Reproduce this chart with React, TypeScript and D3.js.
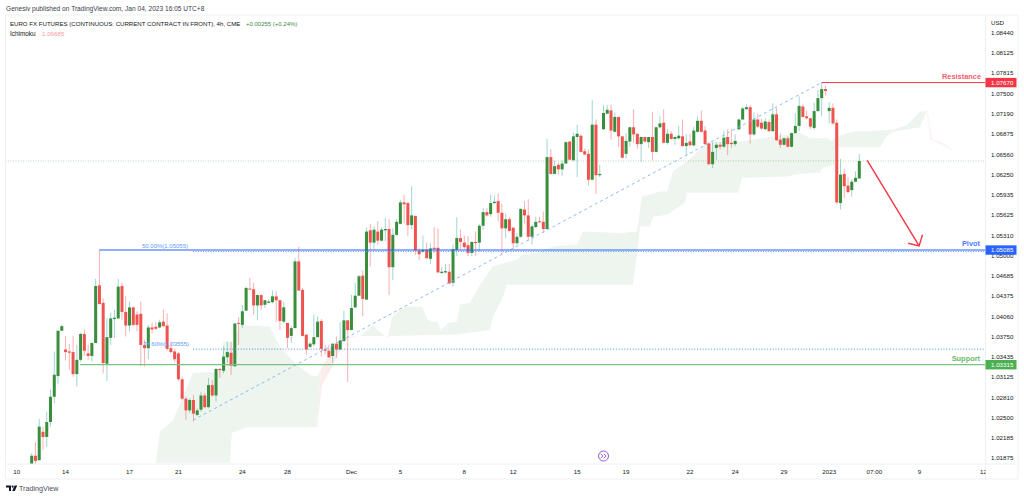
import React from "react";
import * as d3 from "d3";

// Prices in units of 0.0001
const opens = [
10178,10191,10184,10228,10220,10243,10282,10314,10384,10355,
10352,10351,10317,10339,10379,10349,10345,10365,10454,10427,
10333,10373,10402,10403,10453,10413,10392,10420,10409,10410,
10362,10357,10389,10390,10389,10398,10392,10357,10352,10349,
10309,10279,10261,10277,10254,10262,10284,10266,10300,10284,
10325,10322,10343,10350,10329,10396,10393,10415,10449,10448,
10423,10439,10424,10427,10428,10437,10431,10398,10396,10376,
10388,10491,10447,10378,10359,10363,10374,10399,10355,10353,
10345,10364,10355,10368,10400,10385,10420,10438,10469,10432,
10539,10520,10537,10523,10539,10541,10482,10532,10549,10582,
10581,10547,10561,10508,10506,10509,10495,10512,10512,10473,
10474,10475,10458,10509,10527,10520,10516,10504,10521,10520,
10546,10567,10564,10581,10584,10566,10542,10556,10543,10519,
10529,10571,10562,10529,10544,10553,10552,10541,10652,10626,
10640,10633,10642,10676,10647,10683,10685,10661,10657,10617,
10702,10624,10695,10719,10724,10691,10714,10684,10657,10676,
10698,10688,10672,10683,10675,10683,10660,10698,10705,10674,
10688,10680,10681,10684,10669,10676,10670,10691,10708,10693,
10673,10641,10666,10671,10668,10683,10674,10672,10695,10710,
10726,10729,10687,10710,10705,10695,10706,10692,10718,10679,
10671,10681,10668,10689,10700,10730,10715,10712,10697,10723,
10743,10757,10723,10728,10705,10581,10626,10608,10601,10614,10619];

const highs = [
10195,10212,10248,10236,10259,10293,10352,10384,10393,10376,
10364,10376,10362,10381,10386,10362,10366,10464,10509,10434,
10403,10412,10416,10464,10458,10438,10429,10421,10414,10429,
10370,10393,10396,10397,10401,10417,10411,10367,10356,10351,
10313,10282,10280,10285,10264,10289,10288,10311,10308,10326,
10326,10360,10367,10367,10396,10405,10424,10452,10466,10458,
10440,10440,10432,10432,10446,10445,10431,10428,10396,10391,
10496,10514,10450,10378,10366,10409,10406,10402,10362,10362,
10364,10375,10397,10415,10400,10439,10458,10470,10477,10543,
10549,10545,10553,10543,10558,10556,10542,10556,10586,10594,
10583,10607,10562,10512,10531,10520,10519,10544,10542,10482,
10487,10487,10517,10559,10540,10531,10530,10522,10537,10549,
10573,10573,10594,10592,10596,10580,10565,10559,10544,10535,
10573,10584,10587,10548,10560,10560,10568,10680,10664,10647,
10644,10647,10676,10676,10690,10702,10687,10665,10664,10740,
10710,10640,10732,10732,10733,10721,10714,10684,10689,10699,
10726,10688,10684,10683,10683,10722,10699,10715,10726,10695,
10692,10685,10700,10710,10687,10688,10699,10715,10724,10700,
10675,10675,10675,10675,10693,10695,10695,10687,10712,10729,
10733,10732,10721,10719,10711,10712,10710,10735,10728,10689,
10682,10684,10690,10720,10746,10733,10724,10712,10736,10756,
10768,10762,10737,10735,10710,10649,10634,10621,10618,10630,10657];

const lows = [
10178,10178,10184,10200,10205,10236,10272,10302,10383,10338,
10324,10313,10298,10336,10345,10339,10336,10365,10425,10318,
10306,10362,10373,10402,10401,10375,10383,10391,10383,10329,
10329,10340,10380,10385,10388,10390,10353,10349,10336,10306,
10277,10246,10257,10244,10252,10259,10264,10264,10282,10275,
10311,10318,10334,10316,10329,10362,10388,10414,10447,10409,
10400,10416,10419,10426,10426,10398,10385,10396,10357,10365,
10388,10446,10375,10347,10357,10360,10374,10344,10347,10342,
10334,10342,10354,10367,10305,10385,10419,10438,10406,10432,
10483,10509,10517,10522,10522,10439,10462,10530,10548,10550,
10530,10540,10501,10493,10504,10494,10487,10504,10473,10472,
10472,10456,10452,10499,10509,10510,10499,10499,10499,10506,
10540,10560,10560,10580,10553,10501,10527,10537,10510,10517,
10527,10550,10523,10517,10542,10550,10535,10541,10625,10625,
10625,10623,10642,10647,10647,10621,10659,10655,10608,10617,
10595,10621,10694,10719,10679,10690,10668,10651,10650,10668,
10674,10665,10645,10674,10666,10647,10659,10696,10673,10671,
10679,10671,10679,10668,10655,10670,10669,10690,10690,10671,
10640,10635,10648,10664,10666,10655,10666,10669,10693,10709,
10725,10673,10685,10697,10694,10693,10691,10691,10677,10666,
10670,10667,10667,10688,10692,10713,10711,10695,10694,10722,
10715,10747,10704,10702,10579,10571,10589,10596,10591,10613,10618];

const closes = [
10191,10183,10236,10220,10243,10282,10316,10384,10391,10351,
10350,10317,10339,10379,10353,10345,10365,10453,10425,10334,
10374,10403,10404,10452,10413,10392,10420,10393,10393,10362,
10357,10389,10386,10387,10397,10391,10356,10351,10340,10309,
10279,10261,10277,10256,10261,10284,10266,10300,10284,10325,
10323,10344,10351,10330,10395,10395,10414,10450,10448,10423,
10439,10423,10431,10429,10437,10431,10399,10420,10373,10388,
10491,10446,10376,10355,10364,10374,10398,10356,10353,10343,
10364,10355,10369,10400,10385,10419,10438,10468,10433,10537,
10520,10540,10523,10540,10541,10482,10532,10552,10582,10579,
10547,10562,10508,10502,10509,10496,10511,10510,10474,10475,
10476,10457,10510,10527,10521,10513,10504,10521,10520,10546,
10567,10562,10581,10583,10566,10542,10556,10538,10519,10529,
10572,10562,10529,10545,10552,10552,10541,10652,10626,10638,
10633,10642,10675,10648,10684,10688,10660,10656,10617,10702,
10624,10626,10720,10725,10693,10714,10684,10651,10677,10698,
10687,10672,10683,10676,10683,10660,10698,10704,10674,10688,
10680,10683,10685,10669,10674,10670,10693,10708,10691,10672,
10641,10660,10671,10668,10682,10672,10672,10677,10710,10727,
10729,10687,10710,10699,10696,10707,10692,10718,10678,10671,
10681,10668,10689,10700,10731,10714,10712,10699,10723,10743,
10757,10754,10728,10704,10582,10625,10607,10598,10614,10620,10646];

type P = [number, number];
// Ichimoku cloud outline: [bar, price x 1e4]
const cloudATop: P[] = [[33,10180],[34.1,10228],[37.6,10246],[41.3,10297],[42.9,10319],[48.2,10320],[50.6,10324],[50.9,10367],[53.5,10367],[55.4,10393],[63.3,10390],[66,10359],[70,10334],[74,10316],[75.8,10313],[76.9,10324]];
const cloudABottom: P[] = [[33,10180],[52.7,10180],[53.2,10226],[55.4,10231],[57.5,10235],[75.8,10235],[76.9,10324]];
const cloudRedTop: P[] = [[76.9,10324],[79.3,10351],[83.3,10373],[87.3,10376]];
const cloudRedBottom: P[] = [[75.8,10235],[77.2,10300],[80.1,10331],[83.3,10370],[87.3,10376]];
const cloudBTop: P[] = [[87.3,10376],[90.7,10392],[93.4,10378],[94.7,10373],[95.8,10405],[97.9,10416],[99.8,10421],[103.7,10421],[105.3,10401],[106.4,10398],[107.7,10398],[108.8,10385],[110.7,10396],[113,10398],[113.8,10424],[116.5,10427],[119.2,10455],[122.6,10483],[129,10494],[130.3,10501],[134.3,10504],[138.6,10514],[144.9,10517],[146.5,10537],[157.2,10535],[160.9,10537],[162.2,10591],[167,10599],[168.9,10599],[170.5,10630],[174.2,10645],[179.5,10674],[188.3,10676],[204.2,10690],[206.9,10681],[211.4,10681],[212.7,10676],[213.5,10682],[215.7,10687],[218.3,10691],[229,10694],[232.7,10702],[236.1,10722],[238,10724]];
const cloudBBottom: P[] = [[87.3,10376],[94.7,10376],[112.8,10378],[121.8,10385],[122.6,10405],[125.3,10436],[126.3,10455],[159.8,10455],[161.2,10514],[161.7,10545],[164.4,10545],[165.2,10560],[168.9,10563],[173.7,10582],[174.2,10597],[187.8,10597],[188.8,10620],[201,10622],[203.4,10626],[209.5,10628],[210.3,10636],[213.5,10640],[214,10667],[225.5,10667],[227.3,10684],[229,10691],[236.1,10698],[238,10724]];
const cloudTailTop: P[] = [[238,10724],[239.3,10679],[243,10671],[244.9,10662]];
const cloudTailBottom: P[] = [[238,10724],[239,10679],[243.5,10667],[244.9,10662]];

const priceTicks = ["1.08440","1.08125","1.07815","1.07500","1.07190","1.06875","1.06560","1.06250","1.05935","1.05625","1.05310","1.05000","1.04685","1.04375","1.04060","1.03750","1.03435","1.03125","1.02810","1.02500","1.02185","1.01875"];
const timeTickLabels = ["10","14","17","21","24","28","Dec","5","8","12","15","19","22","24","29","2023","07:00","9","12"];
const timeTickBars = [-4,9,26,39,56,68,85,98,115,128,145,158,175,187,200,212,224,236,253];

const resistance = 10767, pivot = 10508.5, support = 10331.5;
const fib786 = 10355.5;
const trendStart: P = [42.9, 10246], trendEnd: P = [210, 10767];
const arrowShaft: P[] = [[222.1,10647],[235.9,10515]];
const arrowHead: P[] = [[233,10519],[235.9,10515],[236.8,10532]];

const FONT = "'Liberation Sans', Arial, sans-serif";
const W = 1024, H = 499;
const axisX = 985.5, plotL = 5.5, plotT = 15, plotB = 464, frameB = 479, frameR = 1018;

const x = d3.scaleLinear().domain([0, opens.length - 1]).range([31.7, 859.3]);
const y = d3.scaleLinear().domain([10187.5, 10844]).range([458, 32.7]);
const line = d3.line<P>().x((d) => x(d[0])).y((d) => y(d[1]));
const shape = (top: P[], bottom: P[]) => line([...top, ...bottom.slice().reverse()]) + "Z";

const GREEN = "#388e3c", RED = "#ef5350";
const C_RED = "#f23645", C_BLUE = "#2962ff", C_GREEN = "#4caf50";

function Tag({ v, label, fill }: { v: number; label: string; fill: string }) {
  const cy = y(v);
  return (
    <g>
      <rect x={axisX} y={cy - 4.7} width={31} height={9.4} fill={fill} />
      <text x={991} y={cy + 2.2} fontSize={6.2} fill="#fff" fontFamily={FONT}>{label}</text>
    </g>
  );
}

export default function App() {
  const lastClose = closes[closes.length - 1];
  return (
    <svg width={W} height={H} viewBox={`0 0 ${W} ${H}`} style={{ position: "absolute", left: 0, top: 0, background: "#fff" }}>
      <defs>
        <clipPath id="plot"><rect x={plotL} y={plotT} width={axisX - plotL} height={plotB - plotT} /></clipPath>
        <clipPath id="time"><rect x={plotL} y={plotB} width={axisX - plotL} height={frameB - plotB} /></clipPath>
      </defs>
      <rect width={W} height={H} fill="#fff" />

      <text x={6} y={10.5} fontSize={6.6} fill="#3a3e4a" fontFamily={FONT}>Genesiv published on TradingView.com, Jan 04, 2023 16:05 UTC+8</text>

      <g clipPath="url(#plot)">
        <path d={shape(cloudATop, cloudABottom)} fill="#edf5ee" />
        <path d={shape(cloudBTop, cloudBBottom)} fill="#edf5ee" />
        <path d={shape(cloudRedTop, cloudRedBottom)} fill="#fdecec" />
        <path d={shape(cloudTailTop, cloudTailBottom)} fill="#fdf1f1" stroke="#fdf1f1" strokeWidth={0.6} />

        <line x1={plotL} x2={axisX} y1={y(lastClose)} y2={y(lastClose)} stroke="#388e3c" strokeOpacity={0.45} strokeWidth={0.8} strokeDasharray="1 1.5" />

        {opens.map((o, i) => {
          const up = closes[i] >= o;
          const top = Math.min(y(o), y(closes[i]));
          const h = Math.max(Math.abs(y(o) - y(closes[i])), 1);
          return (
            <g key={i}>
              <line x1={x(i)} x2={x(i)} y1={y(highs[i])} y2={y(lows[i])} stroke={up ? "#26a69a" : RED} strokeOpacity={0.45} strokeWidth={1} />
              <rect x={x(i) - 1.5} y={top} width={3} height={h} fill={up ? GREEN : RED} />
            </g>
          );
        })}

        <line x1={x(trendStart[0])} y1={y(trendStart[1])} x2={x(trendEnd[0])} y2={y(trendEnd[1])} stroke="#7fb3f0" strokeWidth={0.9} strokeDasharray="3 3" />

        <line x1={x(18)} x2={axisX} y1={y(pivot)} y2={y(pivot)} stroke={C_BLUE} strokeWidth={1.1} />
        <line x1={x(42.9)} x2={axisX} y1={y(pivot) + 1.5} y2={y(pivot) + 1.5} stroke="#5b9cf6" strokeWidth={1} strokeDasharray="1 1.5" />
        <line x1={x(42.9)} x2={axisX} y1={y(fib786)} y2={y(fib786)} stroke="#4a8fe8" strokeWidth={1} strokeDasharray="1 1.8" />
        <line x1={x(12.8)} x2={axisX} y1={y(support)} y2={y(support)} stroke="#7cc381" strokeWidth={1.3} />
        <line x1={x(210)} x2={axisX} y1={y(resistance)} y2={y(resistance)} stroke={C_RED} strokeWidth={1} />

        <path d={line(arrowShaft)!} fill="none" stroke={C_RED} strokeWidth={1.4} />
        <path d={line(arrowHead)!} fill="none" stroke={C_RED} strokeWidth={1.4} />

        <text x={142} y={248} fontSize={6} fill="#5b9cf6" fontFamily={FONT}>50.00%(1.05055)</text>
        <text x={143} y={346} fontSize={6} fill="#5b9cf6" fontFamily={FONT}>78.60%(1.03555)</text>

        <text x={981} y={79} textAnchor="end" fontSize={7.4} fontWeight={700} fill="#f2606e" fontFamily={FONT}>Resistance</text>
        <text x={980} y={246} textAnchor="end" fontSize={7.4} fontWeight={700} fill="#4a7dff" fontFamily={FONT}>Pivot</text>
        <text x={980} y={361} textAnchor="end" fontSize={7.4} fontWeight={700} fill="#66bb6a" fontFamily={FONT}>Support</text>

        <circle cx={603.5} cy={456} r={5} fill="#fff" stroke="#8e5bd6" strokeWidth={1} />
        <path d="M600.8 453.8l2.2 2.2-2.2 2.2M603.8 453.8l2.2 2.2-2.2 2.2" fill="none" stroke="#8e5bd6" strokeWidth={0.9} />
      </g>

      <g stroke="#eef0f5" strokeWidth={1} fill="none">
        <path d={`M${plotL} ${plotT}H${frameR}V${frameB}H${plotL}Z`} />
        <line x1={axisX} x2={axisX} y1={plotT} y2={frameB} />
        <line x1={plotL} x2={frameR} y1={plotB} y2={plotB} />
      </g>

      <text x={10} y={25.5} fontSize={6.1} fill="#131722" fontFamily={FONT}>EURO FX FUTURES (CONTINUOUS: CURRENT CONTRACT IN FRONT), 4h, CME</text>
      <text x={246} y={25.5} fontSize={6} fill="#388e3c" fontFamily={FONT}>+0.00255 (+0.24%)</text>
      <text x={10} y={35.5} fontSize={6.4} fill="#131722" fontFamily={FONT}>Ichimoku</text>
      <text x={42} y={35.5} fontSize={6.2} fill="#ef9a9a" fontFamily={FONT}>1.06685</text>

      <text x={991} y={25} fontSize={6.2} fill="#131722" fontFamily={FONT}>USD</text>
      {priceTicks.map((t) => (
        <text key={t} x={991} y={y(parseFloat(t) * 10000) + 2.2} fontSize={6.2} fill="#131722" fontFamily={FONT}>{t}</text>
      ))}
      <Tag v={resistance} label="1.07670" fill={C_RED} />
      <Tag v={pivot} label="1.05085" fill={C_BLUE} />
      <Tag v={support} label="1.03315" fill={C_GREEN} />

      <g clipPath="url(#time)">
        {timeTickLabels.map((t, i) => (
          <text key={i} x={x(timeTickBars[i])} y={473.5} textAnchor="middle" fontSize={6.2} fill="#131722" fontFamily={FONT}>{t}</text>
        ))}
      </g>

      <g fill="#131722">
        <path d="M6 485.5h5v5.5h-2v-3.5h-3z" />
        <circle cx={12.6} cy={486.6} r={1.1} />
        <path d="M14.6 485.5h2.6l-2.4 5.5h-2.6z" />
      </g>
      <text x={19} y={491} fontSize={7.2} fill="#4a4e5a" fontFamily={FONT}>TradingView</text>
    </svg>
  );
}
